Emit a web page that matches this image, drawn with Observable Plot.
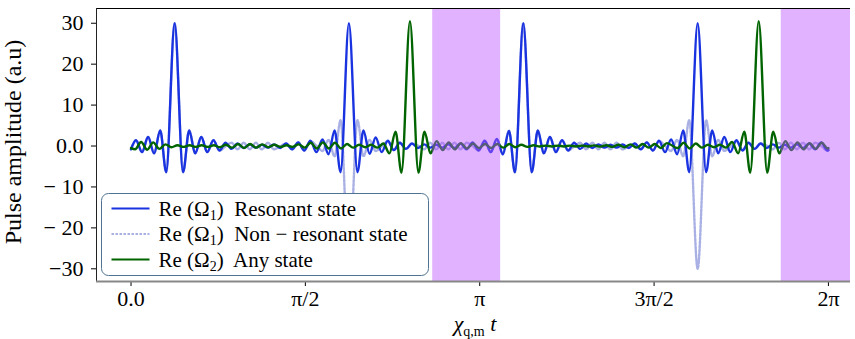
<!DOCTYPE html>
<html><head><meta charset="utf-8">
<script src="https://cdn.jsdelivr.net/npm/d3@7"></script>
<script src="https://cdn.jsdelivr.net/npm/@observablehq/plot@0.6"></script>
<style>body{margin:0;background:#fff}</style>
</head><body><div id="chart"></div>
<script>
// ---- data ----
const tOmega1 = [0,0.045,0.099,0.154,0.208,0.263,0.317, 0.393,
 0.469,0.524,0.578,0.633,0.687,0.742,0.797,0.851,0.906,0.960,1.015,1.070,1.124,1.179,1.233,1.288,1.343,1.397,1.452,1.506,1.561,1.616,1.670,1.725,1.779,1.834,1.888, 1.963,
 2.040,2.094,2.149,2.204,2.258,2.313,2.368,2.422,2.477,2.531,2.586,2.641,2.695,2.750,2.804,2.859,2.914,2.968,3.023,3.077,3.132,3.187,3.241,3.296,3.350,3.405,3.459, 3.534,
 3.610,3.665,3.719,3.774,3.828,3.883,3.938,3.992,4.047,4.101,4.156,4.211,4.265,4.320,4.374,4.429,4.484,4.538,4.593,4.647,4.702,4.757,4.811,4.866,4.920,4.975,5.029, 5.105,
 5.181,5.236,5.290,5.345,5.399,5.454,5.509,5.563,5.618,5.672,5.727,5.782,5.836,5.891,5.945,6.000,6.054,6.109,6.164,6.218,6.273,6.283];
const omega1Resonant = [-0.8,1.4,-1.5,2.2,-1.8,3.8,-6.4, 30,
 -6.4,3.8,-1.8,2.2,-1.5,1.4,-1.1,0.8,-0.7,0.6,-0.5,0.4,-0.4,0.3,-0.4,0.4,-0.5,0.6,-0.8,0.9,-1.1,1.3,-1.5,1.6,-2.0,3.8,-6.4, 30,
 -6.4,3.8,-1.9,2.1,-1.5,1.3,-1.0,0.8,-0.7,0.6,-0.5,0.4,-0.4,0.3,-0.4,0.4,-0.5,0.6,-0.8,0.9,-1.1,1.3,-1.5,1.7,-2.0,3.7,-6.4, 30,
 -6.4,3.8,-1.8,2.2,-1.5,1.4,-1.1,0.8,-0.7,0.6,-0.5,0.4,-0.4,0.3,-0.4,0.4,-0.5,0.6,-0.8,0.9,-1.1,1.3,-1.5,1.6,-2.0,3.8,-6.4, 30,
 -6.4,3.8,-1.8,2.2,-1.5,1.4,-1.1,0.8,-0.7,0.6,-0.5,0.4,-0.4,0.3,-0.4,0.4,-0.5,0.6,-0.8,0.9,-1.1,-1.0];
const omega1NonResonant = [-0.8,1.4,-1.5,2.2,-1.8,3.8,-6.4, 30,
 -6.4,3.8,-1.8,2.2,-1.5,1.4,-1.1,-0.1,0.8,-0.8,0.8,-0.8,0.8,-0.8,0.8,-0.8,-0.1,0.6,-0.8,0.9,-1.1,1.2,0.1,-1.2,1.5,-2.5,6.3, -30,
 6.3,-2.5,1.5,-1.2,-0.1,1.2,-1.0,0.8,-0.7,0.6,0.1,-0.8,0.8,-0.8,0.8,-0.8,0.8,-0.8,0.8,0.0,-1.1,1.3,-1.5,1.6,-2.0,3.8,-6.4, 30,
 -6.4,3.8,-1.8,2.2,-1.5,1.4,-1.1,-0.1,0.8,-0.8,0.8,-0.8,0.8,-0.8,0.8,-0.8,-0.1,0.6,-0.8,0.9,-1.1,1.2,0.1,-1.2,1.5,-2.5,6.3, -30,
 6.3,-2.5,1.5,-1.2,-0.1,1.2,-1.0,0.8,-0.7,0.6,0.1,-0.8,0.8,-0.8,0.8,-0.8,0.8,-0.8,0.8,0.0,-1.1,-1.0];
const tOmega2 = [0,0.037,0.091,0.146,0.200,0.255,0.310,0.364,0.419,0.473,0.528,0.582,0.637,0.692,0.746,0.800,0.855,0.910,0.964,1.019,1.073,1.128,1.183,1.237,1.292,1.346,1.401,1.455,1.510,1.564,1.619,1.674,1.728,1.783,1.837,1.892,1.946,2.001,2.055,2.110,2.164,2.219,2.274,2.328,2.383,2.437, 2.513,
 2.589,2.644,2.698,2.753,2.808,2.862,2.917,2.971,3.026,3.081,3.135,3.190,3.244,3.299,3.354,3.408,3.463,3.517,3.572,3.627,3.681,3.736,3.790,3.845,3.899,3.954,4.009,4.063,4.118,4.172,4.227,4.282,4.336,4.391,4.445,4.500,4.555,4.609,4.664,4.718,4.773,4.828,4.924,4.979,5.033,5.088,5.143,5.197,5.252,5.306,5.361,5.415,5.470,5.525,5.579, 5.655,
 5.731,5.786,5.840,5.895,5.949,6.004,6.059,6.113,6.168,6.222,6.277,6.283];
const omega2Any = [-0.5,-0.8,1.0,-0.9,0.9,-0.7,0.4,-0.3,0.2,-0.2,0.2,-0.2,0.2,-0.2,0.2,-0.3,0.3,-0.4,0.5,-0.5,0.5,-0.4,0.4,-0.3,0.3,-0.2,0.2,-0.2,0.4,-0.4,0.8,-0.6,0.9,-0.6,0.8,-0.6,0.5,-0.4,0.3,-0.3,0.3,-0.4,0.6,-1.8,3.5,-6.5, 30.5,
 -6.5,3.5,-1.8,1.2,-1.0,0.9,-0.8,0.7,-0.6,0.6,-0.5,0.5,-0.5,0.5,-0.4,0.5,-0.3,0.3,-0.2,0.2,-0.1,0.1,-0.1,0.1,-0.1,0.1,-0.1,0.1,-0.1,0.15,-0.15,0.2,-0.2,0.3,-0.3,0.4,-0.4,0.5,-0.4,0.5,-0.5,0.7,-0.5,0.8,-0.6,0.6,-0.4,0.3,-0.3,0.3,-0.4,1.0,-1.8,3.5,-6.5, 30.5,
 -6.5,3.5,-1.8,1.2,-1.0,0.9,-0.8,0.7,-0.7,0.8,-0.6,-0.5];
const bandStart = [2.718, 5.858];
const bandEnd = [3.330, 6.700];
const xTicks = [0, Math.PI/2, Math.PI, 3*Math.PI/2, 2*Math.PI];
const xTickLabels = ["0.0", "π/2", "π", "3π/2", "2π"];
const yTicks = [-30, -20, -10, 0, 10, 20, 30];
const yTickLabels = ["−30", "− 20", "− 10", "0.0", "10", "20", "30"];
const xDomain = [-0.311, 6.482];
const yDomain = [-33.1, 33.6];
const legendSubs = ["1", "1", "2"];
const legendTexts = ["Resonant state", "Non − resonant state", "Any state"];

// ---- build tables ----
const res = tOmega1.map((t, i) => ({t, v: omega1Resonant[i]}));
const nonres = tOmega1.map((t, i) => ({t, v: omega1NonResonant[i]}));
const any = tOmega2.map((t, i) => ({t, v: omega2Any[i]}));
const bands = bandStart.map((a, i) => ({a, b: bandEnd[i]}));

const C_RES = "#1a33e0", C_NON = "#a9b0e4", C_ANY = "#006400", C_BAND = "#bb55ff";
const FONT = "Liberation Serif, DejaVu Serif, serif";

const chart = Plot.plot({
  width: 855, height: 339,
  marginLeft: 96, marginRight: 5, marginTop: 8, marginBottom: 58,
  style: {fontFamily: FONT, fontSize: "22px", background: "white", color: "black", overflow: "visible"},
  x: {domain: xDomain, ticks: xTicks, tickFormat: d => xTickLabels[xTicks.indexOf(d)], label: null, tickSize: 5, tickPadding: 4},
  y: {domain: yDomain, ticks: yTicks, tickFormat: d => yTickLabels[yTicks.indexOf(d)], label: null, tickSize: 5, tickPadding: 8},
  marks: [
    Plot.line(nonres, {x: "t", y: "v", curve: "monotone-x", stroke: C_NON, strokeWidth: 2.4, strokeDasharray: "2.5,1.5"}),
    Plot.line(res, {x: "t", y: "v", curve: "monotone-x", stroke: C_RES, strokeWidth: 2.4}),
    Plot.line(any, {x: "t", y: "v", curve: "monotone-x", stroke: C_ANY, strokeWidth: 2.4}),
    Plot.rect(bands, {x1: "a", x2: "b", y1: yDomain[0], y2: yDomain[1], fill: C_BAND, fillOpacity: 0.45, clip: true}),
    Plot.ruleY([yDomain[1]], {stroke: "black", strokeWidth: 1}),
    Plot.ruleX([xDomain[0]], {stroke: "#222", strokeWidth: 1}),
    Plot.ruleY([yDomain[0]], {stroke: "#888", strokeWidth: 2})
  ]
});
document.getElementById("chart").appendChild(chart);

// ---- titles & legend ----
const svg = d3.select(chart);
svg.selectAll("text").style("font-family", FONT);
svg.append("text").attr("transform", "translate(21,142) rotate(-90)")
  .attr("text-anchor", "middle").style("font-size", "24px").style("font-family", FONT)
  .text("Pulse amplitude (a.u)");
const xl = svg.append("text").attr("x", 475).attr("y", 331).attr("text-anchor", "middle")
  .style("font-size", "22px").style("font-family", FONT).style("white-space", "pre");
xl.append("tspan").style("font-style", "italic").text("χ");
xl.append("tspan").attr("dy", 5).style("font-size", "14px").text("q,m");
xl.append("tspan").attr("dy", -5).style("font-style", "italic").text(" t");

const lg = svg.append("g").attr("transform", "translate(101.5,193.5)");
lg.append("rect").attr("width", 327).attr("height", 82).attr("rx", 7)
  .attr("fill", "white").attr("stroke", "#4f7391").attr("stroke-width", 1);
const legColors = [C_RES, C_NON, C_ANY];
legendTexts.forEach((txt, i) => {
  const yc = 15 + i * 25.5;
  lg.append("line").attr("x1", 10).attr("x2", 48).attr("y1", yc).attr("y2", yc)
    .attr("stroke", legColors[i]).attr("stroke-width", 2.2)
    .attr("stroke-dasharray", i === 1 ? "2.5,1.5" : null);
  const t = lg.append("text").attr("x", 57).attr("y", yc + 7).attr("text-anchor", "start")
    .style("font-size", "21px").style("font-family", FONT).style("white-space", "pre");
  t.append("tspan").text("Re (Ω");
  t.append("tspan").attr("dy", 4).style("font-size", "14px").text(legendSubs[i]);
  t.append("tspan").attr("dy", -4).text(")  " + txt);
});
</script>
</body></html>
